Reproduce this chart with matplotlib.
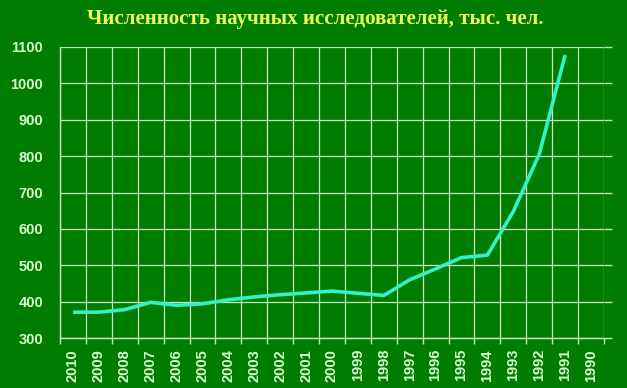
import matplotlib
matplotlib.use('Agg')
import matplotlib.pyplot as plt
import numpy as np

# years from left to right (reversed axis as in the original)
years = [str(y) for y in range(2010, 1989, -1)]
# researchers, thousands (1990 has no value)
researchers = [371, 371, 378, 398, 390, 394, 405, 413, 419, 424, 429,
               423, 417, 460, 490, 521, 528, 648, 805, 1078]

bg = '#007d00'
grid_col = '#c8e8c0'
label_col = '#d8ffd0'

fig = plt.figure(figsize=(6.27, 3.88), dpi=100, facecolor=bg)
ax = fig.add_axes([60/627, 1 - 338/388, 544/627, 291/388])
ax.set_facecolor(bg)

x = np.arange(len(researchers))
ax.plot(x, researchers, color='#33f0c8', lw=2.6, solid_capstyle='butt', zorder=3)

ax.set_xlim(-0.5, len(years) - 0.5)
ax.set_ylim(300, 1100)

# category labels at centres, grid and ticks at boundaries
ax.set_xticks(np.arange(len(years)))
ax.set_xticklabels(years, rotation=90, fontsize=10.5, fontweight='bold',
                   family='Liberation Sans', color=label_col)
ax.set_xticks(np.arange(-0.5, len(years)), minor=True)
ax.tick_params(axis='x', which='major', length=0, pad=8)
ax.tick_params(axis='x', which='minor', length=4, width=1, color=grid_col, direction='out')
ax.grid(axis='x', which='minor', color=grid_col, lw=0.9)

ax.set_yticks(range(300, 1101, 100))
ax.set_yticklabels([str(v) for v in range(300, 1101, 100)], fontsize=10.5,
                   fontweight='bold', family='Liberation Sans', color=label_col)
ax.tick_params(axis='y', left=False, right=True, length=6, width=1,
               color=grid_col, direction='out', pad=6)
ax.grid(axis='y', color=grid_col, lw=0.9)
ax.set_axisbelow(True)

for side in ['top', 'right']:
  ax.spines[side].set_visible(False)
for side in ['left', 'bottom']:
  ax.spines[side].set_color(grid_col)
  ax.spines[side].set_linewidth(1.0)

fig.text(0.502, 0.950, 'Численность научных исследователей, тыс. чел.',
         ha='center', va='center', fontsize=15.1, fontweight='bold',
         family='Liberation Serif', color='#eaff5c')

fig.savefig('out.png', dpi=100, facecolor=bg)
